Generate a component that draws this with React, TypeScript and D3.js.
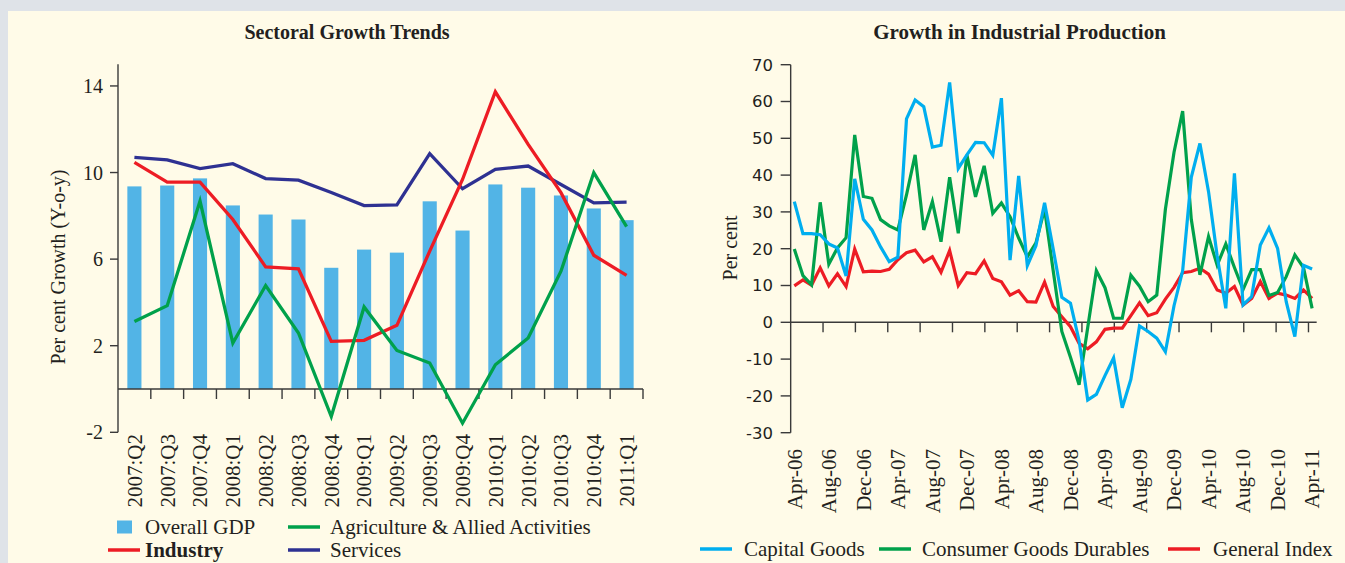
import React, { useEffect, useRef } from "react";
import * as d3 from "d3";

// Sectoral growth trends (quarterly, per cent y-o-y)
const quarters = [
  "2007:Q2", "2007:Q3", "2007:Q4", "2008:Q1", "2008:Q2", "2008:Q3", "2008:Q4", "2009:Q1",
  "2009:Q2", "2009:Q3", "2009:Q4", "2010:Q1", "2010:Q2", "2010:Q3", "2010:Q4", "2011:Q1",
];
const overallGdp = [9.36, 9.4, 9.73, 8.48, 8.06, 7.83, 5.6, 6.44, 6.3, 8.67, 7.32, 9.45, 9.3, 8.94, 8.34, 7.8];
const agriculture = [3.12, 3.85, 8.68, 2.12, 4.78, 2.59, -1.27, 3.79, 1.78, 1.2, -1.58, 1.12, 2.36, 5.44, 10.0, 7.5];
const industry = [10.47, 9.56, 9.56, 7.83, 5.64, 5.55, 2.2, 2.25, 2.94, 6.37, 9.68, 13.73, 11.3, 9.07, 6.18, 5.25];
const services = [10.7, 10.58, 10.18, 10.41, 9.72, 9.65, 9.08, 8.47, 8.51, 10.87, 9.25, 10.15, 10.3, 9.45, 8.6, 8.63];
const leftTicks = [-2, 2, 6, 10, 14];

// Growth in industrial production (monthly, Apr-06 .. Apr-11)
const monthLabels = [
  "Apr-06", "Aug-06", "Dec-06", "Apr-07", "Aug-07", "Dec-07", "Apr-08", "Aug-08",
  "Dec-08", "Apr-09", "Aug-09", "Dec-09", "Apr-10", "Aug-10", "Dec-10", "Apr-11",
];
const capitalGoods = [
  32.8, 24.1, 24.1, 23.8, 21.3, 20.2, 12.6, 39.0, 28.0, 25.1, 20.5, 16.5, 17.7, 55.3, 60.4, 58.6,
  47.6, 48.1, 65.2, 41.8, 45.5, 48.9, 48.8, 45.4, 60.9, 16.9, 39.8, 15.4, 20.8, 32.5, 19.9, 6.8,
  5.2, -5.0, -21.1, -19.6, -14.5, -9.7, -23.2, -15.5, -1.0, -2.5, -4.3, -8.0, 4.5, 14.0, 39.4, 48.6,
  35.5, 18.0, 3.8, 40.5, 4.7, 7.0, 21.0, 25.7, 20.1, 5.6, -3.9, 15.5, 14.5,
];
const consumerDurables = [
  19.9, 12.7, 10.2, 32.6, 15.8, 20.2, 23.0, 50.9, 34.2, 33.7, 27.9, 26.2, 25.1, 34.6, 45.5, 25.1,
  32.8, 21.9, 39.4, 24.2, 45.5, 34.1, 42.5, 29.6, 32.4, 28.7, 22.9, 17.8, 21.6, 30.8, 14.0, -2.5,
  -9.5, -17.0, -1.4, 14.0, 9.4, 1.1, 1.1, 12.8, 9.8, 5.6, 7.4, 30.7, 46.2, 57.4, 28.0, 12.9,
  23.3, 15.5, 21.3, 14.9, 8.9, 14.3, 14.3, 7.3, 8.1, 12.4, 18.3, 14.9, 3.8,
];
const generalIndex = [
  9.9, 11.5, 10.1, 14.8, 9.9, 13.2, 9.7, 19.9, 13.7, 13.9, 13.8, 14.4, 17.0, 18.9, 19.6, 16.4,
  17.8, 13.6, 19.5, 10.0, 13.5, 13.2, 16.7, 11.9, 11.0, 7.4, 8.6, 5.6, 5.5, 10.9, 4.3, 1.5,
  -1.2, -5.7, -7.2, -5.3, -1.9, -1.6, -1.6, 1.8, 5.3, 1.8, 2.6, 6.3, 9.5, 13.5, 13.8, 14.7,
  13.1, 8.8, 7.9, 9.7, 4.7, 6.5, 11.1, 6.5, 7.9, 7.4, 6.5, 8.8, 6.5,
];
const rightTicks = [-30, -20, -10, 0, 10, 20, 30, 40, 50, 60, 70];

const W = 1345, H = 563;
const SERIF = "'Liberation Serif', 'Times New Roman', serif";
const SANS = "'DejaVu Sans', Verdana, sans-serif";
const AXIS = "#3a3a3a";

export default function App() {
  const svgRef = useRef<SVGSVGElement>(null);

  useEffect(() => {
    const svg = d3.select(svgRef.current);
    svg.selectAll("*").remove();

    svg.append("rect").attr("width", W).attr("height", H).attr("fill", "#dfe3e8");
    svg.append("rect").attr("x", 8).attr("y", 11).attr("width", W - 8).attr("height", H - 11).attr("fill", "#fffbe8");

    // ---------- left: sectoral growth ----------
    const L = svg.append("g");
    const x = d3.scaleBand().domain(quarters).range([118, 643]);
    const y = d3.scaleLinear().domain([-2, 15]).range([432.3, 64.3]);
    const bw = x.bandwidth() * 0.43;
    const cx = (i: number) => (x(quarters[i]) as number) + x.bandwidth() / 2;

    L.append("text").attr("x", 347).attr("y", 39).attr("text-anchor", "middle")
      .attr("font-family", SERIF).attr("font-weight", "bold").attr("font-size", 20).attr("fill", "#231f20")
      .text("Sectoral Growth Trends");

    L.selectAll("rect.bar").data(overallGdp).join("rect")
      .attr("class", "bar")
      .attr("x", (_, i) => cx(i) - bw / 2)
      .attr("y", d => y(Math.max(0, d)))
      .attr("width", bw)
      .attr("height", d => Math.abs(y(d) - y(0)))
      .attr("fill", "#52b4e6");

    // y axis
    L.append("line").attr("x1", 118).attr("x2", 118).attr("y1", y(15)).attr("y2", y(-2))
      .attr("stroke", AXIS).attr("stroke-width", 1.4);
    L.selectAll("line.yt").data(leftTicks).join("line").attr("class", "yt")
      .attr("x1", 110).attr("x2", 118).attr("y1", d => y(d)).attr("y2", d => y(d))
      .attr("stroke", AXIS).attr("stroke-width", 1.4);
    L.selectAll("text.yl").data(leftTicks).join("text").attr("class", "yl")
      .attr("x", 103).attr("y", d => y(d)).attr("dy", "0.35em").attr("text-anchor", "end")
      .attr("font-family", SERIF).attr("font-size", 20).attr("fill", "#231f20")
      .text(d => d);
    L.append("text").attr("transform", "translate(58,267) rotate(-90)")
      .attr("text-anchor", "middle").attr("dy", "0.35em")
      .attr("font-family", SERIF).attr("font-size", 20).attr("fill", "#231f20")
      .text("Per cent Growth (Y-o-y)");

    // x axis at zero
    L.append("line").attr("x1", 118).attr("x2", 643).attr("y1", y(0)).attr("y2", y(0))
      .attr("stroke", AXIS).attr("stroke-width", 1.4);
    L.selectAll("line.xt").data(quarters).join("line").attr("class", "xt")
      .attr("x1", d => (x(d) as number) + x.bandwidth()).attr("x2", d => (x(d) as number) + x.bandwidth())
      .attr("y1", y(0)).attr("y2", y(0) + 10)
      .attr("stroke", AXIS).attr("stroke-width", 1.4);
    L.selectAll("text.xl").data(quarters).join("text").attr("class", "xl")
      .attr("transform", (_, i) => `translate(${cx(i)},434) rotate(-90)`)
      .attr("text-anchor", "end").attr("dy", "0.35em")
      .attr("font-family", SERIF).attr("font-size", 21).attr("fill", "#231f20")
      .text(d => d);

    const lineL = d3.line<number>().x((_, i) => cx(i)).y(d => y(d));
    [
      { data: services, color: "#2e3192" },
      { data: industry, color: "#ed1c24" },
      { data: agriculture, color: "#00a14b" },
    ].forEach(s => {
      L.append("path").attr("d", lineL(s.data)).attr("fill", "none")
        .attr("stroke", s.color).attr("stroke-width", 3.3);
    });

    // left legend
    L.append("rect").attr("x", 117).attr("y", 520.5).attr("width", 15).attr("height", 13).attr("fill", "#52b4e6");
    const legL = [
      { x1: 108, y: 550, color: "#ed1c24", tx: 145, label: "Industry", bold: true },
      { x1: 288, y: 527, color: "#00a14b", tx: 330, label: "Agriculture & Allied Activities", bold: false },
      { x1: 288, y: 550, color: "#2e3192", tx: 330, label: "Services", bold: false },
    ];
    legL.forEach(d => {
      L.append("line").attr("x1", d.x1).attr("x2", d.x1 + 32).attr("y1", d.y).attr("y2", d.y)
        .attr("stroke", d.color).attr("stroke-width", 3.5);
      L.append("text").attr("x", d.tx).attr("y", d.y).attr("dy", "0.33em")
        .attr("font-family", SERIF).attr("font-size", 21).attr("fill", "#231f20")
        .attr("font-weight", d.bold ? "bold" : "normal").text(d.label);
    });
    L.append("text").attr("x", 145).attr("y", 527).attr("dy", "0.33em")
      .attr("font-family", SERIF).attr("font-size", 21).attr("fill", "#231f20").text("Overall GDP");

    // ---------- right: industrial production ----------
    const R = svg.append("g");
    const xr = d3.scaleLinear().domain([0, 60]).range([794.3, 1312.1]);
    const yr = d3.scaleLinear().domain([-30, 70]).range([432.7, 64.7]);
    const axisStart = xr(-0.42), axisEnd = xr(60.53);
    const tickIdx = d3.range(1, 17).map(k => -0.42 + 3.75 * k);

    R.append("text").attr("x", 1019.5).attr("y", 39).attr("text-anchor", "middle")
      .attr("font-family", SERIF).attr("font-weight", "bold").attr("font-size", 21).attr("fill", "#231f20")
      .text("Growth in Industrial Production");

    R.append("line").attr("x1", axisStart).attr("x2", axisStart).attr("y1", yr(70)).attr("y2", yr(-30))
      .attr("stroke", AXIS).attr("stroke-width", 1.4);
    R.selectAll("line.yt").data(rightTicks).join("line").attr("class", "yt")
      .attr("x1", axisStart - 10).attr("x2", axisStart).attr("y1", d => yr(d)).attr("y2", d => yr(d))
      .attr("stroke", AXIS).attr("stroke-width", 1.4);
    R.selectAll("text.yl").data(rightTicks).join("text").attr("class", "yl")
      .attr("x", 773).attr("y", d => yr(d)).attr("dy", "0.36em").attr("text-anchor", "end")
      .attr("font-family", SANS).attr("font-size", 16.5).attr("fill", "#231f20")
      .text(d => d);
    R.append("text").attr("transform", "translate(730,248) rotate(-90)")
      .attr("text-anchor", "middle").attr("dy", "0.35em")
      .attr("font-family", SERIF).attr("font-size", 20).attr("fill", "#231f20")
      .text("Per cent");

    R.append("line").attr("x1", axisStart).attr("x2", axisEnd).attr("y1", yr(0)).attr("y2", yr(0))
      .attr("stroke", AXIS).attr("stroke-width", 1.4);
    R.selectAll("line.xt").data(tickIdx).join("line").attr("class", "xt")
      .attr("x1", d => xr(d)).attr("x2", d => xr(d)).attr("y1", yr(0)).attr("y2", yr(0) + 10)
      .attr("stroke", AXIS).attr("stroke-width", 1.4);
    R.selectAll("text.xl").data(monthLabels).join("text").attr("class", "xl")
      .attr("transform", (_, i) => `translate(${xr(i * 4)},449) rotate(-90)`)
      .attr("text-anchor", "end").attr("dy", "0.35em")
      .attr("font-family", SERIF).attr("font-size", 21).attr("fill", "#231f20")
      .text(d => d);

    const lineR = d3.line<number>().x((_, i) => xr(i)).y(d => yr(d));
    [
      { data: generalIndex, color: "#ed1c24" },
      { data: consumerDurables, color: "#00a14b" },
      { data: capitalGoods, color: "#00aeef" },
    ].forEach(s => {
      R.append("path").attr("d", lineR(s.data)).attr("fill", "none")
        .attr("stroke", s.color).attr("stroke-width", 3.2);
    });

    const legR = [
      { x1: 700, color: "#00aeef", tx: 744, label: "Capital Goods" },
      { x1: 879, color: "#00a14b", tx: 922, label: "Consumer Goods Durables" },
      { x1: 1168, color: "#ed1c24", tx: 1213, label: "General Index" },
    ];
    legR.forEach(d => {
      R.append("line").attr("x1", d.x1).attr("x2", d.x1 + 32).attr("y1", 549).attr("y2", 549)
        .attr("stroke", d.color).attr("stroke-width", 3.5);
      R.append("text").attr("x", d.tx).attr("y", 549).attr("dy", "0.33em")
        .attr("font-family", SERIF).attr("font-size", 21).attr("fill", "#231f20").text(d.label);
    });
  }, []);

  return (
    <svg ref={svgRef} width={W} height={H}
      style={{ position: "absolute", left: 0, top: 0, display: "block" }} />
  );
}
